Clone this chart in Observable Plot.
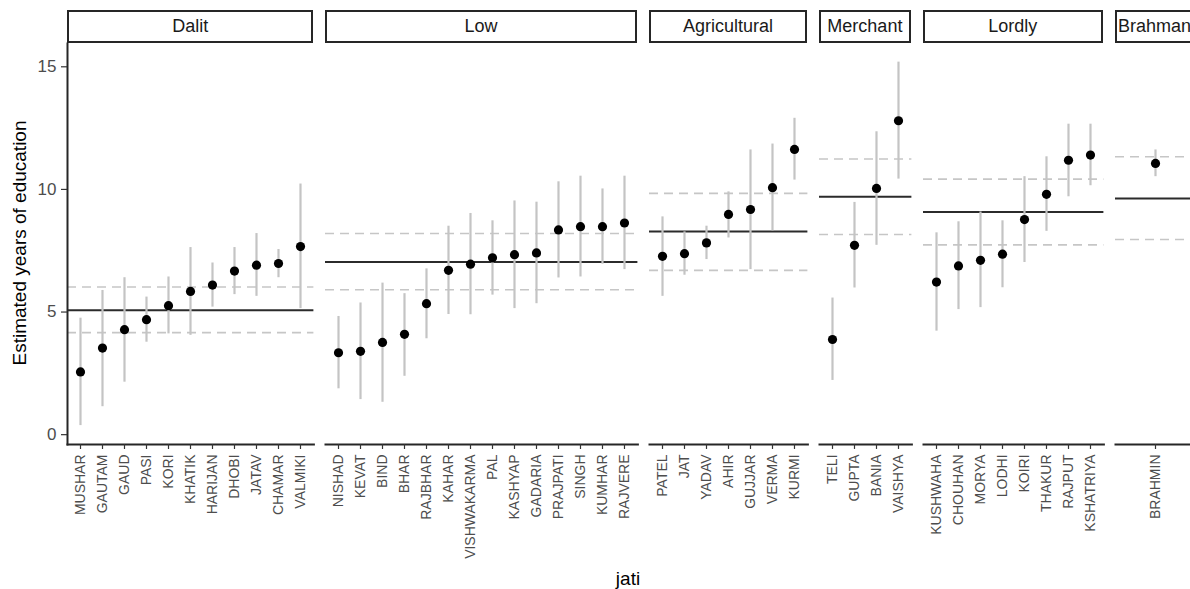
<!DOCTYPE html>
<html>
<head>
<meta charset="utf-8">
<script src="https://cdn.jsdelivr.net/npm/d3@7"></script>
<script src="https://cdn.jsdelivr.net/npm/@observablehq/plot@0.6"></script>
<style>
  html, body { margin: 0; padding: 0; background: #fff; overflow: hidden; }
  #chart { position: relative; width: 1190px; height: 589px; overflow: hidden; background: #fff;
           font-family: "Liberation Sans", Arial, Helvetica, sans-serif; }
  .strip { position: absolute; top: 10px; height: 33px; box-sizing: border-box;
           border: 2px solid #262626; background: #fff; color: #1a1a1a; font-size: 18px;
           display: flex; align-items: center; justify-content: center; white-space: nowrap; overflow: hidden; }
  .title { position: absolute; color: #000; font-size: 19px; white-space: nowrap; }
</style>
</head>
<body>
<div id="chart"></div>
<script>
// ---- data ----
const groups = ["Dalit", "Low", "Agricultural", "Merchant", "Lordly", "Brahman"];
const groupMean  = [5.07, 7.04, 8.28, 9.70, 9.08, 9.63];
const groupLower = [4.16, 5.91, 6.70, 8.16, 7.74, 7.96];
const groupUpper = [6.02, 8.20, 9.84, 11.24, 10.42, 11.33];

const jati = [
  "MUSHAR","GAUTAM","GAUD","PASI","KORI","KHATIK","HARIJAN","DHOBI","JATAV","CHAMAR","VALMIKI",
  "NISHAD","KEVAT","BIND","BHAR","RAJBHAR","KAHAR","VISHWAKARMA","PAL","KASHYAP","GADARIA","PRAJPATI","SINGH","KUMHAR","RAJVERE",
  "PATEL","JAT","YADAV","AHIR","GUJJAR","VERMA","KURMI",
  "TELI","GUPTA","BANIA","VAISHYA",
  "KUSHWAHA","CHOUHAN","MORYA","LODHI","KOIRI","THAKUR","RAJPUT","KSHATRIYA",
  "BRAHMIN"
];
const caste = [
  "Dalit","Dalit","Dalit","Dalit","Dalit","Dalit","Dalit","Dalit","Dalit","Dalit","Dalit",
  "Low","Low","Low","Low","Low","Low","Low","Low","Low","Low","Low","Low","Low","Low",
  "Agricultural","Agricultural","Agricultural","Agricultural","Agricultural","Agricultural","Agricultural",
  "Merchant","Merchant","Merchant","Merchant",
  "Lordly","Lordly","Lordly","Lordly","Lordly","Lordly","Lordly","Lordly",
  "Brahman"
];
const estimate = [
  2.56, 3.53, 4.28, 4.69, 5.26, 5.84, 6.10, 6.67, 6.91, 6.98, 7.67,
  3.34, 3.40, 3.76, 4.09, 5.34, 6.70, 6.95, 7.21, 7.34, 7.41, 8.35, 8.48, 8.48, 8.63,
  7.27, 7.38, 7.82, 8.98, 9.18, 10.07, 11.63,
  3.88, 7.72, 10.04, 12.80,
  6.22, 6.88, 7.11, 7.36, 8.77, 9.80, 11.19, 11.40,
  11.06
];
const lower = [
  0.37, 1.14, 2.14, 3.77, 4.11, 4.05, 5.20, 5.71, 5.64, 6.40, 5.14,
  1.87, 1.43, 1.32, 2.38, 3.91, 4.90, 4.89, 5.69, 5.14, 5.34, 6.39, 6.43, 6.95, 6.73,
  5.64, 6.50, 7.14, 8.02, 6.73, 8.31, 10.38,
  2.21, 5.98, 7.72, 10.42,
  4.22, 5.10, 5.18, 5.99, 7.02, 8.29, 9.70, 10.15,
  10.52
];
const upper = [
  4.75, 5.88, 6.40, 5.61, 6.43, 7.63, 7.00, 7.63, 8.20, 7.55, 10.22,
  4.82, 5.37, 6.18, 5.75, 6.76, 8.50, 9.02, 8.72, 9.53, 9.48, 10.31, 10.54, 10.02, 10.54,
  8.88, 8.27, 8.50, 9.90, 11.61, 11.85, 12.90,
  5.57, 9.47, 12.35, 15.19,
  8.23, 8.68, 9.08, 8.72, 10.52, 11.33, 12.66, 12.66,
  11.61
];
const yTicks = [0, 5, 10, 15];

const rowsAll = jati.map((j, i) => ({jati: j, caste: caste[i], estimate: estimate[i], lower: lower[i], upper: upper[i]}));

// ---- layout ----
const root = document.getElementById("chart");
const step = 22, gap = 11.5, firstLeft = 67;
const yDomain = [-0.4, 15.95];
const font = "'Liberation Sans', Arial, Helvetica, sans-serif";

let left = firstLeft;
groups.forEach((g, gi) => {
  const rows = rowsAll.filter(d => d.caste === g);
  const pw = Math.max(step * (rows.length + 0.2), 80);
  const isFirst = gi === 0;
  const ml = isFirst ? firstLeft : 0;
  const plot = Plot.plot({
    width: ml + pw,
    height: 589,
    marginLeft: ml,
    marginRight: 0,
    marginTop: 43,
    marginBottom: 145,
    style: {background: "transparent", fontFamily: font, overflow: "visible"},
    x: {type: "point", domain: rows.map(d => d.jati), padding: 0.6, axis: null},
    y: {domain: yDomain, axis: null},
    marks: [
      Plot.ruleY([groupLower[gi], groupUpper[gi]], {stroke: "#c6c6c6", strokeWidth: 1.6, strokeDasharray: "9,6"}),
      Plot.ruleY([groupMean[gi]], {stroke: "#2b2b2b", strokeWidth: 2}),
      Plot.ruleX(rows, {x: "jati", y1: "lower", y2: "upper", stroke: "#c4c4c4", strokeWidth: 2.2}),
      Plot.dot(rows, {x: "jati", y: "estimate", r: 4.6, fill: "#000", stroke: "none"}),
      Plot.frame({anchor: "bottom", stroke: "#262626", strokeWidth: 2}),
      isFirst ? Plot.frame({anchor: "left", stroke: "#262626", strokeWidth: 2}) : null,
      Plot.axisX({tickRotate: -90, tickSize: 5, tickPadding: 5, fontSize: 14, fill: "#4d4d4d", stroke: "#333", strokeWidth: 1.2, label: null}),
      isFirst ? Plot.axisY({ticks: yTicks, tickSize: 6, tickPadding: 5, fontSize: 17, fill: "#4d4d4d", stroke: "#333", strokeWidth: 1.2, label: null}) : null
    ]
  });
  plot.style.position = "absolute";
  plot.style.left = (left - ml) + "px";
  plot.style.top = "0px";
  root.append(plot);

  const strip = document.createElement("div");
  strip.className = "strip";
  strip.style.left = left + "px";
  strip.style.width = pw + "px";
  strip.textContent = g;
  root.append(strip);

  left += pw + gap;
});

const yTitle = document.createElement("div");
yTitle.className = "title";
yTitle.textContent = "Estimated years of education";
yTitle.style.left = "20px";
yTitle.style.top = "243px";
yTitle.style.transform = "translate(-50%, -50%) rotate(-90deg)";
root.append(yTitle);

const xTitle = document.createElement("div");
xTitle.className = "title";
xTitle.textContent = "jati";
xTitle.style.left = "628px";
xTitle.style.top = "579px";
xTitle.style.transform = "translate(-50%, -50%)";
root.append(xTitle);
</script>
</body>
</html>
